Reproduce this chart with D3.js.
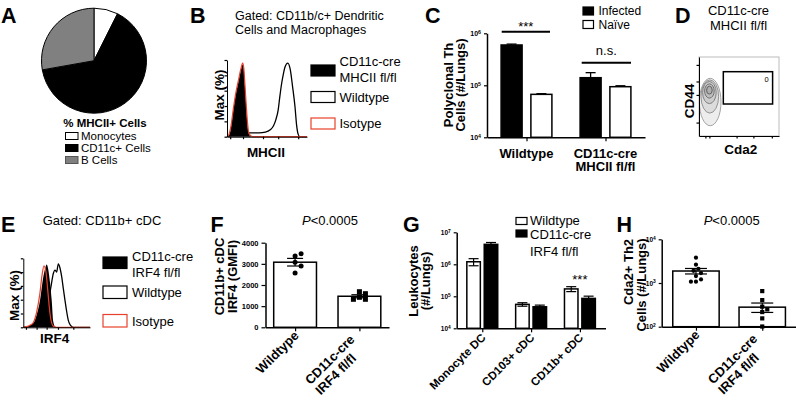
<!DOCTYPE html>
<html><head><meta charset="utf-8">
<script src="https://cdn.jsdelivr.net/npm/d3@7"></script>
<style>
body{margin:0;background:#fff}
svg{font-family:"Liberation Sans",Arial,sans-serif}
</style></head><body>
<svg id="c" width="796" height="400"></svg>
<script>
// ================= DATA =================
const panelLetters = ["A","B","C","D","E","F","G","H"];

// A: pie
const pieTitle = "% MHCII+ Cells";
const pieLabels = ["Monocytes", "CD11c+ Cells", "B Cells"];
const pieValues = [7.4, 64.8, 27.8];
const pieColors = ["#ffffff", "#000000", "#808080"];

// B: histograms ([channel, % of max])
const bTitle = ["Gated: CD11b/c+ Dendritic", "Cells and Macrophages"];
const bAxisX = "MHCII";
const histLegendB = ["CD11c-cre|MHCII fl/fl", "Wildtype", "Isotype"];
const histB_KO = [[0,0],[3,3],[5,12],[8,35],[11,55],[14,70],[17,85],[19.6,94],[21,88],[22.5,65],[24,40],[25.4,18],[27,5],[29,1],[32,0],[100,0]];
const histB_ISO = [[0,0],[2.5,3],[5,14],[8,37],[11,57],[14,72],[17,87],[19.6,96],[21,89],[22.5,66],[24,42],[25.5,20],[27,6],[29,2],[32,0],[100,0]];
const histB_WT = [[0,0],[5,2],[10,4],[20,5],[30,5],[40,5],[48,6],[54,9],[58,14],[61,22],[64,35],[66,52],[68.4,70],[70.5,82],[72.5,91],[76,96],[79,88],[82,65],[85,39],[87,15],[89,3],[91,0],[100,0]];
const bXTicks = [4, 20, 45, 64, 89];
const bYTicks = [0, 20, 40, 60, 80, 100];

// C: grouped log bars
const cGroups = ["Wildtype", "CD11c-cre|MHCII fl/fl"];
const cSeries = ["Infected", "Naïve"];
const cInfected = [5.96e5, 1.40e5];
const cInfectedErr = [2.4e4, 3.5e4];
const cNaive = [6.7e4, 9.4e4];
const cNaiveErr = [2.0e3, 4.0e3];
const cTicks = [1e4, 1e5, 1e6];
const cYLabel = ["Polyclonal Th", "Cells (#/Lungs)"];
const cSig = ["***", "n.s."];

// D: contour plot
const dTitle = ["CD11c-cre", "MHCII fl/fl"];
const dGateCount = "0";
const dGate = [30.4, 92, 40.5, 81.4]; // x0,x1,y0,y1 in plot units
const dContours = [ // cx, cy, rx, ry (plot units)
  [14, 43, 13.5, 30], [13.5, 50, 11, 21], [13, 55, 8.5, 14], [13, 57, 6, 9], [13, 58, 3.5, 5]
];
const dXTicks = [8, 13, 47, 68, 91];
const dYTicks = [17, 52, 69, 90];

// E: histograms
const eTitle = "Gated:  CD11b+ cDC";
const eAxisX = "IRF4";
const histLegendE = ["CD11c-cre|IRF4 fl/fl", "Wildtype", "Isotype"];
const histE_KO = [[0,0],[5,1],[10,3],[15,6],[20,18],[25,39],[30,73],[33,86],[35,91],[37,86],[40,65],[42.6,39],[45,8],[47.5,1],[50,0],[100,0]];
const histE_ISO = [[0,0],[5,1],[10,3],[15,7],[20,22],[25,50],[28,75],[31,89],[34,80],[37,50],[40,20],[43,5],[46,1],[50,0],[100,0]];
const histE_WT = [[0,0],[10,1],[20,3],[28,8],[34,20],[38,40],[42,62],[45,78],[47.5,83],[50,80],[52.5,92],[55,86],[57.6,73],[60,56],[62.5,39],[65,23],[67.5,10],[70,4],[72.5,1],[75,0],[100,0]];
const eXTicks = [4, 20, 35, 52, 75];
const eYTicks = [0, 20, 40, 60, 80, 100];

// F: bar + dots
const fGroups = ["Wildtype", "CD11c-cre|IRF4 fl/fl"];
const fMeans = [3078, 1468];
const fSEM = [180, 72];
const fDots = [[3371, 3480, 3073, 2898, 2567], [1683, 1589, 1418, 1324, 1324]];
const fTicks = [0, 1000, 2000, 3000, 4000];
const fYLabel = ["CD11b+ cDC", "IRF4 (GMFI)"];
const fP = "<0.0005";

// G: grouped log bars
const gCats = ["Monocyte DC", "CD103+ cDC", "CD11b+ cDC"];
const gSeries = ["Wildtype", "CD11c-cre|IRF4 fl/fl"];
const gWT = [1.2e6, 5.6e4, 1.7e5];
const gWTErr = [3.0e5, 7e3, 3.0e4];
const gKO = [4.2e6, 4.7e4, 8.6e4];
const gKOErr = [6e5, 6e3, 1.5e4];
const gTicks = [1e4, 1e5, 1e6, 1e7];
const gYLabel = ["Leukocytes", "(#/Lungs)"];

// H: bar + dots (log)
const hGroups = ["Wildtype", "CD11c-cre|IRF4 fl/fl"];
const hMeans = [1880, 280];
const hSEM = [270, 68];
const hDots = [[3790, 2620, 2120, 1900, 1690, 1440, 1210, 1070, 1070], [653, 406, 287, 249, 216, 155, 101]];
const hTicks = [1e2, 1e3, 1e4];
const hYLabel = ["Cda2+ Th2", "Cells (#/Lungs)"];

// ================= DRAWING =================
const svg = d3.select("#c");
const RED = "#e8412b";

function txt(x, y, s, o = {}) {
  const t = svg.append("text").attr("x", x).attr("y", y).text(s)
    .attr("font-size", o.size || 13).attr("font-weight", o.bold ? "bold" : "normal")
    .attr("text-anchor", o.anchor || "start").attr("fill", o.fill || "#000");
  if (o.italic) t.attr("font-style", "italic");
  return t;
}
function vtxt(x, y, s, o = {}) {
  return svg.append("text").attr("transform", `translate(${x},${y}) rotate(-90)`)
    .attr("text-anchor", "middle").attr("font-size", o.size || 13)
    .attr("font-weight", o.bold === false ? "normal" : "bold").text(s);
}
function styleAxis(g, fs) {
  g.select(".domain").attr("stroke", "#000").attr("stroke-width", 1.5);
  g.selectAll(".tick line").attr("stroke", "#000").attr("stroke-width", 1.2);
  g.selectAll(".tick text").attr("font-size", fs).attr("font-weight", "bold")
    .attr("font-family", '"Liberation Sans",Arial,sans-serif').attr("fill", "#000");
}
function logFmt(g) {
  g.selectAll(".tick text").each(function (d) {
    const t = d3.select(this);
    t.text("10");
    t.append("tspan").attr("dy", "-0.45em").attr("font-size", "75%").text(Math.round(Math.log10(d)));
  });
}
function rotLabels(xs, axisY, labels, fs, single, multi) {
  labels.forEach(l => {
    const parts = l.split("|");
    const off = parts.length > 1 ? multi : single;
    const g = svg.append("g").attr("transform", `translate(${xs(l) + off[0]},${axisY + off[1]}) rotate(-45)`);
    const t1 = g.append("text").attr("text-anchor", "end").attr("font-size", fs).attr("font-weight", "bold").text(parts[0]);
    if (parts.length > 1) {
      const w = t1.node().getComputedTextLength();
      g.append("text").attr("x", -w).attr("y", fs * 1.12).attr("font-size", fs).attr("font-weight", "bold").text(parts[1]);
    }
  });
}

// ---- panel letters
[[1, 22.7], [190, 22.7], [425, 22.7], [675, 22.7], [1, 231.7], [210.5, 231.7], [403, 231.7], [616.5, 231.7]]
  .forEach((p, i) => txt(p[0], p[1], panelLetters[i], { size: 21.5, bold: true }));

// ---- A: pie
{
  const pie = d3.pie().sort(null).value(d => d);
  const arc = d3.arc().innerRadius(0).outerRadius(52.5);
  const g = svg.append("g").attr("transform", "translate(94,60.7)");
  g.selectAll("path").data(pie(pieValues)).join("path").attr("d", arc)
    .attr("fill", (d, i) => pieColors[i]).attr("stroke", "#000").attr("stroke-width", 1);
  txt(63.3, 126.5, pieTitle, { size: 11.5, bold: true });
  const ly = d3.scalePoint().domain(pieLabels).range([140, 164]);
  pieLabels.forEach((l, i) => {
    svg.append("rect").attr("x", 65.5).attr("y", ly(l) - 7.5).attr("width", 12.5).attr("height", 7)
      .attr("fill", pieColors[i]).attr("stroke", i === 2 ? "#555" : "#000").attr("stroke-width", 1);
    txt(81, ly(l), l, { size: 11.5 });
  });
}

// ---- histogram panel helper
function histPanel(x0, x1, yb, yt, ko, wt, iso, xt, yt2) {
  const x = d3.scaleLinear().domain([0, 100]).range([x0, x1]);
  const y = d3.scaleLinear().domain([0, 100]).range([yb, yt]);
  const line = d3.line().x(d => x(d[0])).y(d => y(d[1])).curve(d3.curveMonotoneX);
  const area = d3.area().x(d => x(d[0])).y0(yb).y1(d => y(d[1])).curve(d3.curveMonotoneX);
  svg.append("path").attr("d", line(wt)).attr("fill", "none").attr("stroke", "#000").attr("stroke-width", 1.3);
  svg.append("path").attr("d", area(ko)).attr("fill", "#000");
  svg.append("path").attr("d", line(iso)).attr("fill", "none").attr("stroke", RED).attr("stroke-width", 1.2);
  const ga = svg.append("g").attr("transform", `translate(${x0},0)`)
    .call(d3.axisLeft(y).tickValues(yt2).tickSize(2.5).tickSizeOuter(0).tickFormat(""));
  styleAxis(ga); ga.select(".domain").attr("stroke-width", 1);
  const gb = svg.append("g").attr("transform", `translate(0,${yb})`)
    .call(d3.axisBottom(x).tickValues(xt).tickSize(2.5).tickSizeOuter(0).tickFormat(""));
  styleAxis(gb); gb.select(".domain").attr("stroke-width", 1);
}
function histLegend(lx, tx, rows, labels, fs) {
  const styles = [["#000", "#000"], ["#fff", "#000"], ["#fff", RED]];
  labels.forEach((l, i) => {
    const r = rows[i];
    svg.append("rect").attr("x", lx).attr("y", r[0]).attr("width", 24).attr("height", r[1])
      .attr("fill", styles[i][0]).attr("stroke", styles[i][1]).attr("stroke-width", 1.2);
    l.split("|").forEach((p, j) => txt(tx, r[2] + j * 15.5, p, { size: fs }));
  });
}

// ---- B
txt(235, 19.5, bTitle[0], { size: 12.5 });
txt(235, 33.5, bTitle[1], { size: 12.5 });
histPanel(227, 307, 136.7, 60, histB_KO, histB_WT, histB_ISO, bXTicks, bYTicks);
vtxt(223.5, 95, "Max (%)", { size: 13.5 });
txt(266, 157, bAxisX, { size: 13.5, bold: true, anchor: "middle" });
histLegend(311, 339.5, [[65, 11, 66], [91.5, 11, 101.5], [118, 11, 128]], histLegendB, 13);

// ---- C
{
  const y = d3.scaleLog().domain([1e4, 1e6]).range([137.3, 33.3]);
  const x = d3.scalePoint().domain(cGroups).range([487, 645]).padding(0.5);
  const xi = d3.scaleBand().domain(cSeries).range([-25.4, 25.4]).paddingInner(0.295);
  const vals = [cInfected, cNaive], errs = [cInfectedErr, cNaiveErr];
  cGroups.forEach((gname, gi) => {
    cSeries.forEach((s, si) => {
      const v = vals[si][gi], e = errs[si][gi];
      const bx = x(gname) + xi(s), bw = xi.bandwidth(), cx = bx + bw / 2;
      svg.append("line").attr("x1", cx).attr("x2", cx).attr("y1", y(v)).attr("y2", y(v + e)).attr("stroke", "#000").attr("stroke-width", 1.3);
      svg.append("line").attr("x1", cx - 5).attr("x2", cx + 5).attr("y1", y(v + e)).attr("y2", y(v + e)).attr("stroke", "#000").attr("stroke-width", 1.3);
      svg.append("rect").attr("x", bx).attr("y", y(v)).attr("width", bw).attr("height", y(1e4) - y(v))
        .attr("fill", si === 0 ? "#000" : "#fff").attr("stroke", "#000").attr("stroke-width", 1.5);
    });
  });
  const ga = svg.append("g").attr("transform", "translate(487,0)")
    .call(d3.axisLeft(y).tickValues(cTicks).tickSize(3).tickSizeOuter(0));
  styleAxis(ga, 7); logFmt(ga);
  const gb = svg.append("g").attr("transform", "translate(0,137.3)")
    .call(d3.axisBottom(x).tickSize(4).tickSizeOuter(0).tickFormat(""));
  styleAxis(gb);
  cGroups.forEach(gname => gname.split("|").forEach((p, j) =>
    txt(x(gname), 157.6 + j * 13.6, p, { size: 13, bold: true, anchor: "middle" })));
  vtxt(452.7, 85, cYLabel[0]); vtxt(465.4, 85, cYLabel[1]);
  // significance
  const sig = [[501.7, 550, 31.7, 30.5], [581.7, 631, 62.7, 55]];
  sig.forEach((s, i) => {
    svg.append("line").attr("x1", s[0]).attr("x2", s[1]).attr("y1", s[2]).attr("y2", s[2]).attr("stroke", "#000").attr("stroke-width", 2);
    txt((s[0] + s[1]) / 2, s[3], cSig[i], { size: 13, anchor: "middle" });
  });
  // legend
  cSeries.forEach((s, i) => {
    svg.append("rect").attr("x", 583).attr("y", 7 + i * 13.5).attr("width", 10.5).attr("height", 8)
      .attr("fill", i === 0 ? "#000" : "#fff").attr("stroke", "#000").attr("stroke-width", 1.2);
    txt(598.5, 15 + i * 13.5, s, { size: 12 });
  });
}

// ---- D
{
  const x = d3.scaleLinear().domain([0, 100]).range([699, 779]);
  const y = d3.scaleLinear().domain([0, 100]).range([136, 57]);
  txt(738.5, 15, dTitle[0], { size: 13, anchor: "middle" });
  txt(738.5, 30, dTitle[1], { size: 13, anchor: "middle" });
  svg.append("rect").attr("x", x(0)).attr("y", y(100)).attr("width", x(100) - x(0)).attr("height", y(0) - y(100))
    .attr("fill", "none").attr("stroke", "#bbb").attr("stroke-width", 1);
  const shades = ["#9a9a9a", "#8a8a8a", "#777", "#666", "#555"];
  dContours.forEach((c, i) => {
    svg.append("ellipse").attr("cx", x(c[0])).attr("cy", y(c[1]))
      .attr("rx", x(c[2]) - x(0)).attr("ry", y(0) - y(c[3]))
      .attr("fill", "#000").attr("fill-opacity", 0.07).attr("stroke", shades[i]).attr("stroke-width", 0.9);
  });
  svg.append("rect").attr("x", x(dGate[0])).attr("y", y(dGate[3])).attr("width", x(dGate[1]) - x(dGate[0]))
    .attr("height", y(dGate[2]) - y(dGate[3])).attr("fill", "none").attr("stroke", "#000").attr("stroke-width", 1.5);
  txt(x(dGate[1]) - 6, y(dGate[3]) + 10, dGateCount, { size: 7.5, anchor: "middle" });
  const ga = svg.append("g").attr("transform", `translate(${x(0)},0)`)
    .call(d3.axisLeft(y).tickValues(dYTicks).tickSize(2.5).tickSizeOuter(0).tickFormat(""));
  styleAxis(ga); ga.select(".domain").attr("stroke-width", 1);
  const gb = svg.append("g").attr("transform", `translate(0,${y(0)})`)
    .call(d3.axisBottom(x).tickValues(dXTicks).tickSize(2.5).tickSizeOuter(0).tickFormat(""));
  styleAxis(gb); gb.select(".domain").attr("stroke-width", 1);
  vtxt(693.5, 101, "CD44", { size: 13.5 });
  txt(740.8, 154, "Cda2", { size: 13.5, bold: true, anchor: "middle" });
}

// ---- E
txt(42.7, 225, eTitle, { size: 13 });
histPanel(23.3, 90, 327.3, 258.3, histE_KO, histE_WT, histE_ISO, eXTicks, eYTicks);
vtxt(19, 295.5, "Max (%)", { size: 13.5 });
txt(54.7, 343.3, eAxisX, { size: 13.5, bold: true, anchor: "middle" });
histLegend(103, 132, [[257, 11.5, 261], [286, 12.5, 296.7], [314.5, 12.5, 326]], histLegendE, 13);

// ---- beeswarm helper (pixel space)
function swarm(vals, ys, cx, r) {
  const placed = [];
  vals.map((v, i) => ({ v, y: ys(v) })).forEach(p => {
    for (let k = 0; k < 40; k++) {
      const off = (k % 2 ? 1 : -1) * Math.ceil(k / 2) * r * 1.2;
      if (placed.every(q => Math.hypot(q.x - (cx + off), q.y - p.y) >= 2 * r + 0.4)) {
        placed.push({ x: cx + off, y: p.y }); break;
      }
    }
  });
  return placed;
}
function dotBars(x, y, groups, means, sems, dots, base, bwFrac, capW, r) {
  const bw = x.step() * bwFrac;
  groups.forEach((gname, i) => {
    const cx = x(gname);
    svg.append("rect").attr("x", cx - bw / 2).attr("y", y(means[i])).attr("width", bw).attr("height", y(base) - y(means[i]))
      .attr("fill", "#fff").attr("stroke", "#000").attr("stroke-width", 1.5);
    swarm(dots[i], y, cx, r).forEach(p => {
      if (i === 0) svg.append("circle").attr("cx", p.x).attr("cy", p.y).attr("r", r).attr("fill", "#000");
      else svg.append("rect").attr("x", p.x - r).attr("y", p.y - r).attr("width", 2 * r).attr("height", 2 * r).attr("fill", "#000");
    });
    const hi = y(means[i] + sems[i]), lo = y(means[i] - sems[i]);
    svg.append("line").attr("x1", cx).attr("x2", cx).attr("y1", hi).attr("y2", lo).attr("stroke", "#000").attr("stroke-width", 1.2);
    [hi, lo].forEach(yy => svg.append("line").attr("x1", cx - capW / 2).attr("x2", cx + capW / 2).attr("y1", yy).attr("y2", yy).attr("stroke", "#000").attr("stroke-width", 1.2));
  });
}

// ---- F
{
  const y = d3.scaleLinear().domain([0, 4000]).range([327.3, 242.7]);
  const x = d3.scalePoint().domain(fGroups).range([265.5, 389]).padding(0.46);
  dotBars(x, y, fGroups, fMeans, fSEM, fDots, 0, 0.665, 16, 2.5);
  const ga = svg.append("g").attr("transform", "translate(265.5,0)")
    .call(d3.axisLeft(y).tickValues(fTicks).tickSize(4).tickSizeOuter(0).tickFormat(d3.format("d")));
  styleAxis(ga, 7.5);
  const gb = svg.append("g").attr("transform", "translate(0,327.3)")
    .call(d3.axisBottom(x).tickSize(4).tickSizeOuter(0).tickFormat(""));
  styleAxis(gb);
  rotLabels(x, 327.3, fGroups, 13, [4.5, 9], [-4, 13]);
  vtxt(224.3, 276.5, fYLabel[0]); vtxt(236.6, 276.5, fYLabel[1]);
  const t = txt(330, 225.3, "", { size: 13, anchor: "middle" });
  t.append("tspan").attr("font-style", "italic").text("P");
  t.append("tspan").text(fP);
}

// ---- G
{
  const y = d3.scaleLog().domain([1e4, 1e7]).range([328.3, 232.3]);
  const x = d3.scalePoint().domain(gCats).range([456.7, 605.5]).padding(0.524);
  const xi = d3.scaleBand().domain(gSeries).range([-15.45, 15.45]).paddingInner(0.224);
  const vals = [gWT, gKO], errs = [gWTErr, gKOErr];
  gCats.forEach((c, ci) => {
    gSeries.forEach((s, si) => {
      const v = vals[si][ci], e = errs[si][ci];
      const bx = x(c) + xi(s), bw = xi.bandwidth(), cx = bx + bw / 2;
      svg.append("rect").attr("x", bx).attr("y", y(v)).attr("width", bw).attr("height", y(1e4) - y(v))
        .attr("fill", si === 0 ? "#fff" : "#000").attr("stroke", "#000").attr("stroke-width", 1.5);
      const hi = y(v + e), lo = y(v - e);
      svg.append("line").attr("x1", cx).attr("x2", cx).attr("y1", hi).attr("y2", lo).attr("stroke", "#000").attr("stroke-width", 1.2);
      [hi, lo].forEach(yy => svg.append("line").attr("x1", cx - 5).attr("x2", cx + 5).attr("y1", yy).attr("y2", yy).attr("stroke", "#000").attr("stroke-width", 1.2));
    });
  });
  const ga = svg.append("g").attr("transform", "translate(456.7,0)")
    .call(d3.axisLeft(y).tickValues(gTicks).tickSize(3).tickSizeOuter(0));
  styleAxis(ga, 6.5); logFmt(ga);
  const gb = svg.append("g").attr("transform", "translate(0,328.3)")
    .call(d3.axisBottom(x).tickSize(4).tickSizeOuter(0).tickFormat(""));
  styleAxis(gb);
  rotLabels(x, 328.3, gCats, 11.5, [4, 10], [4, 10]);
  vtxt(417.6, 281, gYLabel[0]); vtxt(430, 281, gYLabel[1]);
  txt(x(gCats[2]), 284, "***", { size: 13, anchor: "middle" });
  gSeries.forEach((s, i) => {
    svg.append("rect").attr("x", 516).attr("y", 217.5 + i * 12.5).attr("width", 11).attr("height", 7)
      .attr("fill", i === 0 ? "#fff" : "#000").attr("stroke", "#000").attr("stroke-width", 1.2);
    s.split("|").forEach((p, j) => txt(530, 224.5 + i * 14 + j * 17.5, p, { size: 13 }));
  });
}

// ---- H
{
  const y = d3.scaleLog().domain([1e2, 1e4]).range([326.7, 239.3]);
  const x = d3.scalePoint().domain(hGroups).range([661.7, 796.5]).padding(0.517);
  dotBars(x, y, hGroups, hMeans, hSEM, hDots, 1e2, 0.7, 22, 2.1);
  const ga = svg.append("g").attr("transform", "translate(661.7,0)")
    .call(d3.axisLeft(y).tickValues(hTicks).tickSize(3).tickSizeOuter(0));
  styleAxis(ga, 6.5); logFmt(ga);
  const gb = svg.append("g").attr("transform", "translate(0,326.7)")
    .call(d3.axisBottom(x).tickSize(4).tickSizeOuter(0).tickFormat(""));
  styleAxis(gb);
  rotLabels(x, 326.7, hGroups, 13, [4.5, 9], [-4, 13]);
  vtxt(632.6, 272, hYLabel[0]); vtxt(646, 285, hYLabel[1]);
  const t = txt(731.7, 225.3, "", { size: 13, anchor: "middle" });
  t.append("tspan").attr("font-style", "italic").text("P");
  t.append("tspan").text(fP);
}
</script>
</body></html>
